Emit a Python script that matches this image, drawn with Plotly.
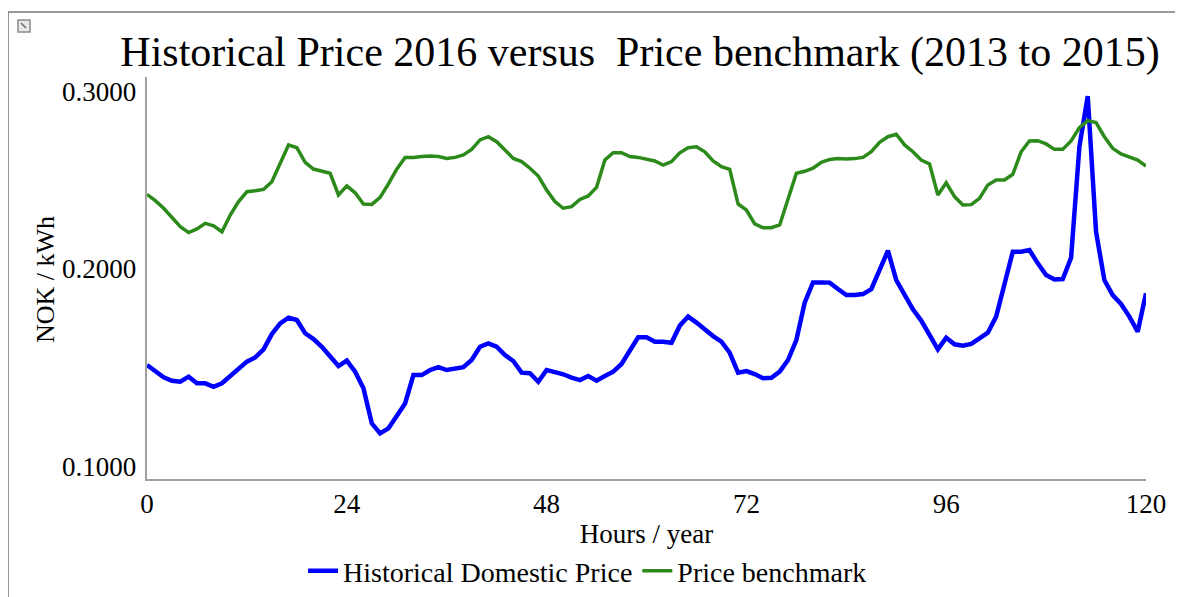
import plotly.graph_objects as go

hours = list(range(0, 121))

domestic_price = [
    0.1567, 0.1534, 0.1506, 0.1489, 0.1484, 0.1509, 0.1476, 0.1476, 0.1459, 0.1476,
    0.1512, 0.1551, 0.1584, 0.1605, 0.1645, 0.1721, 0.1774, 0.1803, 0.1791, 0.1725,
    0.1696, 0.1658, 0.1609, 0.1562, 0.1589, 0.1534, 0.1451, 0.1277, 0.1227, 0.1252,
    0.1313, 0.1376, 0.1517, 0.1517, 0.1542, 0.1556, 0.1542, 0.1547, 0.1556, 0.1592,
    0.1658, 0.1675, 0.1658, 0.1617, 0.1587, 0.1529, 0.1526, 0.1484, 0.1542, 0.1532,
    0.1521, 0.1504, 0.1492, 0.1512, 0.1489, 0.1512, 0.1534, 0.1572, 0.1642, 0.1705,
    0.1705, 0.1683, 0.1683, 0.1678, 0.1763, 0.1808, 0.1778, 0.1741, 0.1711, 0.1683,
    0.1628, 0.1529, 0.1537, 0.1522, 0.1501, 0.1504, 0.1534, 0.1592, 0.1691, 0.1877,
    0.1978, 0.1978, 0.1977, 0.1945, 0.1915, 0.1915, 0.1920, 0.1944, 0.2035, 0.2136,
    0.1990, 0.1915, 0.1844, 0.1788, 0.1711, 0.1645, 0.1703, 0.1670, 0.1663, 0.1672,
    0.1700, 0.1728, 0.1808, 0.1973, 0.2131, 0.2131, 0.2139, 0.2073, 0.2015, 0.1993,
    0.1995, 0.2101, 0.2653, 0.2905, 0.2230, 0.1990, 0.1915, 0.1871, 0.1808, 0.1733,
    0.1924,
]

benchmark = [
    0.2416, 0.2385, 0.2347, 0.2302, 0.2255, 0.2226, 0.2244, 0.2272, 0.2260, 0.2230,
    0.2313, 0.2380, 0.2429, 0.2434, 0.2441, 0.2479, 0.2570, 0.2662, 0.2648, 0.2575,
    0.2542, 0.2532, 0.2521, 0.2413, 0.2458, 0.2424, 0.2368, 0.2366, 0.2401, 0.2468,
    0.2541, 0.2599, 0.2599, 0.2604, 0.2607, 0.2604, 0.2595, 0.2600, 0.2612, 0.2640,
    0.2687, 0.2703, 0.2678, 0.2637, 0.2595, 0.2579, 0.2546, 0.2507, 0.2438, 0.2380,
    0.2347, 0.2355, 0.2391, 0.2408, 0.2451, 0.2587, 0.2623, 0.2623, 0.2604, 0.2600,
    0.2592, 0.2582, 0.2562, 0.2579, 0.2623, 0.2648, 0.2653, 0.2628, 0.2582, 0.2554,
    0.2541, 0.2368, 0.2338, 0.2269, 0.2250, 0.2250, 0.2264, 0.2393, 0.2521, 0.2531,
    0.2546, 0.2575, 0.2590, 0.2595, 0.2592, 0.2594, 0.2600, 0.2628, 0.2675, 0.2703,
    0.2715, 0.2662, 0.2628, 0.2587, 0.2567, 0.2413, 0.2474, 0.2405, 0.2363, 0.2365,
    0.2396, 0.2463, 0.2488, 0.2488, 0.2516, 0.2628, 0.2682, 0.2683, 0.2667, 0.2640,
    0.2640, 0.2682, 0.2748, 0.2783, 0.2773, 0.2703, 0.2645, 0.2617, 0.2604, 0.2587,
    0.2557,
]

x_ticks = [0, 24, 48, 72, 96, 120]
y_ticks = [0.1, 0.2, 0.3]
y_tick_labels = ["0.1000", "0.2000", "0.3000"]

title_text = "Historical Price 2016 versus\u00a0 Price benchmark (2013 to 2015)"
x_title = "Hours / year"
y_title = "NOK / kWh"

SERIF = "Liberation Serif, Times New Roman, serif"

# page body has an 8px default margin: figure is sized to fill the rest of the window
OFF = 8
W, H = 1183 - OFF, 597 - OFF

fig = go.Figure()
fig.add_trace(go.Scatter(
    x=hours, y=domestic_price, mode="lines", name="Historical Domestic Price",
    line=dict(color="#0000FF", width=4.5),
))
fig.add_trace(go.Scatter(
    x=hours, y=benchmark, mode="lines", name="Price benchmark",
    line=dict(color="#2B8A1A", width=3.5),
))

# y tick labels as annotations (placed slightly inside the axis ends, like the original)
y_shifts = {0.1: 12, 0.2: 9, 0.3: -15}
for v, lab in zip(y_ticks, y_tick_labels):
    fig.add_annotation(
        x=0, xref="paper", y=v, yref="y", text=lab, showarrow=False,
        xanchor="right", yanchor="middle", xshift=-9, yshift=y_shifts[v],
        font=dict(family=SERIF, size=27, color="black"),
    )

fig.add_annotation(
    x=-0.102, xref="paper", y=0.495, yref="paper", text=y_title, showarrow=False,
    textangle=-90, xanchor="center", yanchor="middle",
    font=dict(family=SERIF, size=26, color="black"),
)

# outer frame and small corner icon
fig.add_shape(type="rect", xref="paper", yref="paper",
              x0=-0.1391, x1=1.034, y0=-0.32, y1=1.1617,
              line=dict(color="#7a7a7a", width=1.5), fillcolor="rgba(0,0,0,0)")
fig.add_shape(type="rect", xref="paper", yref="paper",
              x0=(18 - 147) / 999, x1=(30 - 147) / 999,
              y0=(479 - 32) / 402, y1=(479 - 20) / 402,
              line=dict(color="#8a8a8a", width=1.5), fillcolor="#e8e8e8")
fig.add_shape(type="line", xref="paper", yref="paper",
              x0=(21 - 147) / 999, x1=(26 - 147) / 999,
              y0=(479 - 23) / 402, y1=(479 - 28) / 402,
              line=dict(color="#6a6a6a", width=1.5))

fig.update_layout(
    width=W, height=H,
    paper_bgcolor="white", plot_bgcolor="white",
    margin=dict(l=147 - OFF, r=37, t=77 - OFF, b=118, autoexpand=False),
    title=dict(text=title_text, x=(640 - OFF) / W, xref="container", xanchor="center",
               y=1 - (51 - OFF) / H, yref="container", yanchor="middle",
               font=dict(family=SERIF, size=42, color="black")),
    xaxis=dict(range=[0, 120], tickvals=x_ticks, ticktext=[str(t) for t in x_ticks],
               showgrid=False, zeroline=False, showline=True, linecolor="#a0a0a0",
               linewidth=2, ticks="", tickfont=dict(family=SERIF, size=27, color="black"),
               title=dict(text=x_title, standoff=6,
                          font=dict(family=SERIF, size=27, color="black"))),
    yaxis=dict(range=[0.1, 0.3], showticklabels=False, showgrid=False, zeroline=False,
               showline=True, linecolor="#a0a0a0", linewidth=2, ticks=""),
    legend=dict(orientation="h", x=0.441, xanchor="center", y=-0.229, yanchor="middle",
                font=dict(family=SERIF, size=28, color="black"),
                bgcolor="rgba(0,0,0,0)", itemwidth=30, tracegroupgap=0),
    showlegend=True,
)

fig.write_html("out.html")
